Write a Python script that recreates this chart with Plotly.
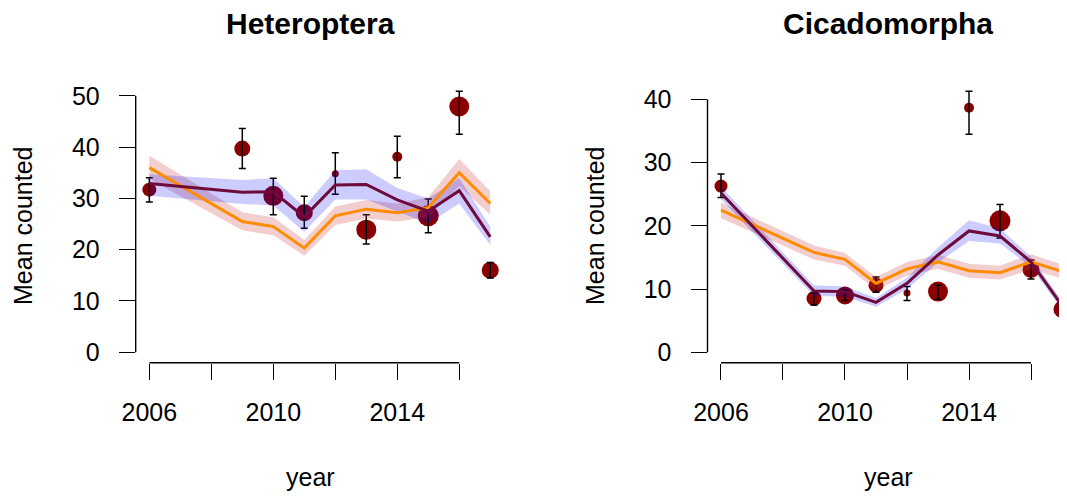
import plotly.graph_objects as go

# years with data (no survey in 2007, 2008)
years = [2006, 2009, 2010, 2011, 2012, 2013, 2014, 2015, 2016, 2017]

# --- Heteroptera ---
het_mean = [31.7, 39.7, 30.5, 27.2, 34.8, 23.9, 38.1, 26.6, 47.9, 16.0]
het_hi = [34.0, 43.6, 33.9, 30.4, 38.9, 26.8, 42.1, 29.9, 50.9, 17.5]
het_lo = [29.3, 35.8, 26.8, 24.2, 30.8, 21.1, 34.0, 23.3, 42.5, 14.5]
het_size = [14, 16, 20, 17, 7, 20, 10, 21, 20, 17]
het_orange = [36.0, 25.5, 24.5, 20.3, 26.6, 27.9, 27.2, 28.2, 35.0, 29.0]
het_orange_hi = [38.3, 27.3, 26.3, 21.9, 28.4, 29.7, 29.0, 30.2, 37.7, 31.4]
het_orange_lo = [33.8, 23.8, 22.8, 18.8, 24.8, 26.1, 25.5, 26.3, 32.4, 26.8]
het_purple = [32.9, 31.2, 31.3, 26.4, 32.6, 32.7, 29.7, 27.5, 31.5, 22.5]
het_purple_hi = [34.7, 33.6, 33.9, 28.3, 35.5, 35.7, 32.0, 30.0, 33.9, 24.5]
het_purple_lo = [30.5, 28.9, 28.6, 23.5, 29.8, 29.8, 27.4, 25.1, 29.0, 20.9]

# --- Cicadomorpha ---
cic_mean = [26.3, 8.5, 9.0, 10.6, 9.4, 9.6, 38.7, 20.8, 13.1, 6.8]
cic_hi = [28.2, 9.4, 9.8, 11.9, 10.4, 10.6, 41.3, 23.4, 14.6, 7.4]
cic_lo = [24.5, 7.5, 8.2, 9.5, 8.2, 8.4, 34.5, 18.1, 11.6, 6.2]
cic_size = [13, 15, 18, 15, 7, 20, 10, 21, 17, 17]
cic_orange = [22.5, 15.8, 14.7, 10.9, 13.2, 14.3, 12.9, 12.6, 14.3, 12.8]
cic_orange_hi = [23.7, 16.9, 15.7, 11.9, 14.3, 15.4, 14.0, 13.7, 15.5, 13.9]
cic_orange_lo = [21.2, 14.7, 13.7, 9.9, 12.1, 13.2, 11.8, 11.5, 13.1, 11.7]
cic_purple = [25.2, 9.7, 9.6, 7.9, 10.9, 15.4, 19.2, 18.4, 14.3, 7.4]
cic_purple_hi = [26.2, 10.6, 10.4, 8.6, 11.8, 16.6, 20.9, 19.6, 15.1, 8.1]
cic_purple_lo = [24.2, 8.9, 8.8, 7.2, 10.0, 14.2, 17.6, 17.2, 13.5, 6.7]

xtick_vals = [2006, 2008, 2010, 2012, 2014, 2016]
xtick_text = ["2006", "", "2010", "", "2014", ""]
het_yticks = [0, 10, 20, 30, 40, 50]
cic_yticks = [0, 10, 20, 30, 40]

W, H = 1067, 497
OFF = 8  # page body margin shifts the figure by this many px
FONT = "Liberation Sans, Arial, sans-serif"
DOT = "#8B0000"
ORANGE = "#FF8C00"
PURPLE = "#6E0B3B"
PINK_BAND = "rgba(205,60,60,0.25)"
BLUE_BAND = "rgba(0,0,255,0.2)"


def px_x(p):
    return (p - OFF) / W


def px_y(p):
    return 1 - (p - OFF) / H


fig = go.Figure()


def add_panel(xa, ya, mean, hi, lo, size, o, o_hi, o_lo, p, p_hi, p_lo):
    # points
    fig.add_trace(go.Scatter(x=years, y=mean, mode="markers", xaxis=xa, yaxis=ya,
                             marker=dict(color=DOT, size=size, opacity=1, line=dict(width=0)),
                             cliponaxis=False, showlegend=False))
    # error bars
    fig.add_trace(go.Scatter(x=years, y=mean, mode="markers", xaxis=xa, yaxis=ya,
                             marker=dict(color="rgba(0,0,0,0)", size=1),
                             error_y=dict(type="data", symmetric=False,
                                          array=[h - m for h, m in zip(hi, mean)],
                                          arrayminus=[m - l for m, l in zip(mean, lo)],
                                          color="black", thickness=1.5, width=3.5),
                             cliponaxis=False, showlegend=False))
    # confidence bands
    for up, dn, col in [(o_hi, o_lo, PINK_BAND), (p_hi, p_lo, BLUE_BAND)]:
        fig.add_trace(go.Scatter(x=years + years[::-1], y=up + dn[::-1],
                                 xaxis=xa, yaxis=ya, mode="lines", fill="toself",
                                 fillcolor=col, line=dict(width=0),
                                 hoverinfo="skip", showlegend=False))
    # fitted lines
    fig.add_trace(go.Scatter(x=years, y=o, mode="lines", xaxis=xa, yaxis=ya,
                             line=dict(color=ORANGE, width=3), showlegend=False))
    fig.add_trace(go.Scatter(x=years, y=p, mode="lines", xaxis=xa, yaxis=ya,
                             line=dict(color=PURPLE, width=3), showlegend=False))


add_panel("x", "y", het_mean, het_hi, het_lo, het_size,
          het_orange, het_orange_hi, het_orange_lo,
          het_purple, het_purple_hi, het_purple_lo)
add_panel("x2", "y2", cic_mean, cic_hi, cic_lo, cic_size,
          cic_orange, cic_orange_hi, cic_orange_lo,
          cic_purple, cic_purple_hi, cic_purple_lo)

ydom = [px_y(362.7), px_y(85)]
tickfont = dict(family=FONT, size=25, color="black")

xaxis_common = dict(showgrid=False, zeroline=False, showline=False, ticks="outside",
                    ticklen=16, tickwidth=1.4, tickcolor="black", automargin=False,
                    tickvals=xtick_vals, ticktext=xtick_text, tickfont=tickfont,
                    ticklabelstandoff=11)
yaxis_common = dict(showgrid=False, zeroline=False, showline=False, ticks="outside",
                    ticklen=16, tickwidth=1.4, tickcolor="black", automargin=False,
                    tickfont=tickfont, ticklabelstandoff=14)

fig.update_layout(
    width=W, height=H,
    margin=dict(l=0, r=0, t=0, b=0, autoexpand=False),
    paper_bgcolor="white", plot_bgcolor="white",
    font=dict(family=FONT, color="black"),
    xaxis=dict(domain=[px_x(135.7), px_x(520)], range=[2005.56, 2017.96], **xaxis_common),
    yaxis=dict(domain=ydom, range=[-2.03, 52.1], tickvals=het_yticks, **yaxis_common),
    xaxis2=dict(domain=[px_x(707.5), px_x(1067)], range=[2005.565, 2017.161], anchor="y2",
                **xaxis_common),
    yaxis2=dict(domain=ydom, range=[-1.65, 42.3], tickvals=cic_yticks, anchor="x2",
                **yaxis_common),
)

# R-style axis lines spanning only the tick range
for xa, ya, yt in [("x", "y", het_yticks), ("x2", "y2", cic_yticks)]:
    fig.add_shape(type="line", xref=xa + " domain", yref=ya, x0=0, x1=0,
                  y0=yt[0], y1=yt[-1], line=dict(color="black", width=1.4))
    fig.add_shape(type="line", xref=xa, yref=ya + " domain", x0=xtick_vals[0],
                  x1=xtick_vals[-1], y0=0, y1=0, line=dict(color="black", width=1.4))

# titles and axis labels
for cx, name, ylab_x in [(310, "Heteroptera", 23), (888, "Cicadomorpha", 595)]:
    fig.add_annotation(x=px_x(cx), y=px_y(24), xref="paper", yref="paper",
                       xanchor="center", yanchor="middle",
                       text="<b>" + name + "</b>", showarrow=False,
                       font=dict(family=FONT, size=30, color="black"))
    fig.add_annotation(x=px_x(cx), y=px_y(477), xref="paper", yref="paper",
                       xanchor="center", yanchor="middle",
                       text="year", showarrow=False,
                       font=dict(family=FONT, size=25, color="black"))
    fig.add_annotation(x=px_x(ylab_x), y=px_y(226), xref="paper", yref="paper",
                       xanchor="center", yanchor="middle",
                       text="Mean counted", textangle=-90, showarrow=False,
                       font=dict(family=FONT, size=25, color="black"))

fig.write_html("out.html")
